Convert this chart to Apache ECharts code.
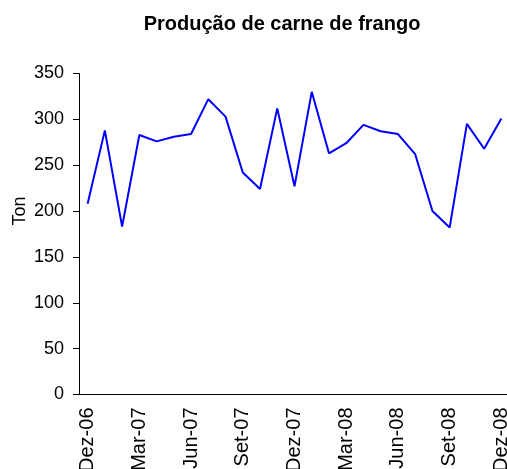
<!DOCTYPE html>
<html>
<head>
<meta charset="utf-8">
<style>
	html, body { margin: 0; padding: 0; background: #fff; }
	#chart { width: 507px; height: 469px; }
</style>
<script src="https://cdn.jsdelivr.net/npm/echarts@6/dist/echarts.min.js"></script>
</head>
<body>
<div id="chart"></div>
<script>
// months Dez-06 .. Dez-08
const months = ['Dez-06','Jan-07','Fev-07','Mar-07','Abr-07','Mai-07','Jun-07','Jul-07','Ago-07','Set-07','Out-07','Nov-07',
	'Dez-07','Jan-08','Fev-08','Mar-08','Abr-08','Mai-08','Jun-08','Jul-08','Ago-08','Set-08','Out-08','Nov-08','Dez-08'];
const producao = [208, 288, 183, 283, 276, 281, 284, 322, 303, 242, 224, 312,
	227, 330, 263, 274, 294, 287, 284, 262, 200, 182, 295, 268, 301];
const yTicks = { min: 0, max: 350, interval: 50 };

const chart = echarts.init(document.getElementById('chart'));
const fontFamily = 'Liberation Sans, Arial, sans-serif';

chart.setOption({
	animation: false,
	title: {
		text: 'Produção de carne de frango',
		left: 277,
		textAlign: 'center',
		top: 9,
		textStyle: { fontFamily: fontFamily, fontSize: 20, fontWeight: 'bold', color: '#000' }
	},
	// y axis title, placed by hand like the original
	graphic: [{
		type: 'text',
		x: 20,
		y: 211,
		rotation: Math.PI / 2,
		style: {
			text: 'Ton',
			fontFamily: fontFamily,
			fontSize: 18,
			fill: '#000',
			align: 'center',
			verticalAlign: 'middle'
		}
	}],
	grid: { left: 79, top: 73.5, width: 431, height: 321, containLabel: false, outerBoundsMode: 'none' },
	xAxis: {
		type: 'category',
		boundaryGap: true,
		data: months,
		axisLine: { lineStyle: { color: '#000', width: 1 } },
		axisTick: { interval: 2, length: 5, lineStyle: { color: '#000' } },
		axisLabel: {
			interval: 2,
			rotate: 90,
			margin: 13,
			fontFamily: fontFamily,
			fontSize: 20,
			color: '#000'
		},
		splitLine: { show: false }
	},
	yAxis: {
		type: 'value',
		min: yTicks.min,
		max: yTicks.max,
		interval: yTicks.interval,
		axisLine: { show: true, lineStyle: { color: '#000', width: 1 } },
		axisTick: { show: true, length: 6, lineStyle: { color: '#000' } },
		axisLabel: { margin: 15, fontFamily: fontFamily, fontSize: 18, color: '#000' },
		splitLine: { show: false }
	},
	series: [{
		name: 'Produção',
		type: 'line',
		data: producao,
		symbol: 'none',
		lineStyle: { color: '#0000FF', width: 2 },
		itemStyle: { color: '#0000FF' }
	}]
});
</script>
</body>
</html>
